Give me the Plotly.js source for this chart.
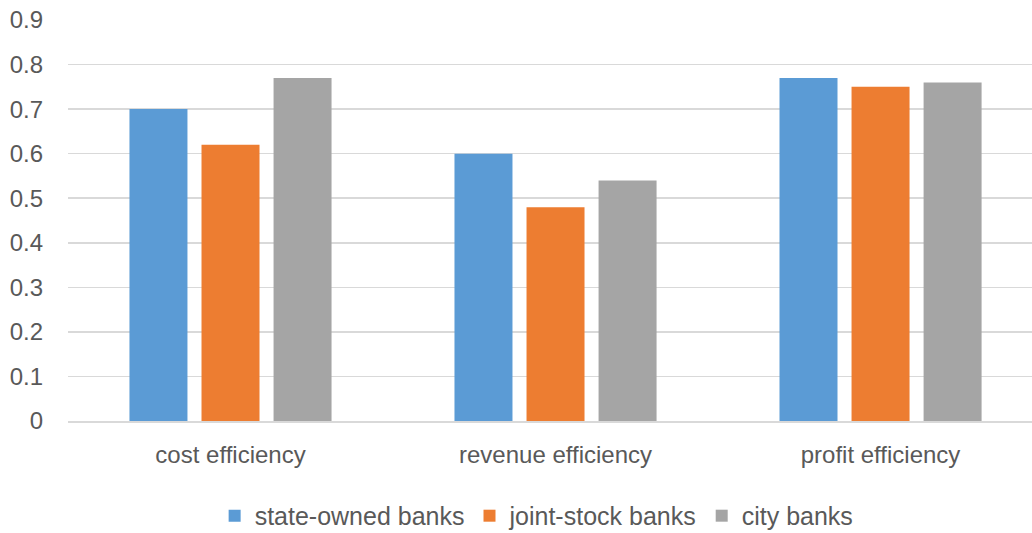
<!DOCTYPE html>
<html>
<head>
<meta charset="utf-8">
<script src="https://cdn.plot.ly/plotly-3.0.1.min.js"></script>
<style>
  html, body { margin: 0; padding: 0; background: #ffffff; }
  #chart { width: 1032px; height: 533px; }
</style>
</head>
<body>
<div id="chart"></div>
<script>
// Efficiency scores by bank type
const categories = ['cost efficiency', 'revenue efficiency', 'profit efficiency'];
const stateOwned = [0.70, 0.60, 0.77];
const jointStock = [0.62, 0.48, 0.75];
const cityBanks  = [0.77, 0.54, 0.76];
const seriesNames = ['state-owned banks', 'joint-stock banks', 'city banks'];
const yTicks = [0, 0.1, 0.2, 0.3, 0.4, 0.5, 0.6, 0.7, 0.8, 0.9];
const yTickText = ['0', '0.1', '0.2', '0.3', '0.4', '0.5', '0.6', '0.7', '0.8', '0.9'];

const colors = ['#5b9bd5', '#ed7d31', '#a5a5a5'];
const values = [stateOwned, jointStock, cityBanks];

const traces = values.map((v, i) => ({
  type: 'bar',
  name: seriesNames[i],
  x: categories,
  y: v,
  marker: { color: colors[i] },
  hoverinfo: 'x+y+name'
}));

const layout = {
  width: 1032,
  height: 533,
  margin: { l: 68, r: 0, t: 20, b: 112 },
  paper_bgcolor: '#ffffff',
  plot_bgcolor: '#ffffff',
  font: { family: 'Liberation Sans, Arial, sans-serif', color: '#595959', size: 24 },
  barmode: 'group',
  bargap: 0.335,
  bargroupgap: 0.195,
  showlegend: true,
  legend: {
    orientation: 'h',
    xref: 'container',
    yref: 'container',
    x: 0.52,
    xanchor: 'center',
    y: 0.032,
    yanchor: 'middle',
    font: { size: 25, color: '#595959' },
    itemwidth: 30,
    tracegroupgap: 0
  },
  xaxis: {
    type: 'category',
    range: [-0.5, 2.466],
    showgrid: false,
    showline: true,
    linecolor: '#d9d9d9',
    linewidth: 1.5,
    ticks: '',
    ticklabelstandoff: 12,
    tickfont: { size: 24, color: '#595959' },
    zeroline: false,
    fixedrange: true
  },
  yaxis: {
    range: [0, 0.9],
    tickvals: yTicks,
    ticktext: yTickText,
    showgrid: true,
    gridcolor: '#d9d9d9',
    gridwidth: 1.5,
    zeroline: false,
    showline: false,
    ticks: '',
    ticklabelstandoff: 24,
    tickfont: { size: 24, color: '#595959' },
    fixedrange: true
  }
};

Plotly.newPlot('chart', traces, layout, { displayModeBar: false, staticPlot: true });
</script>
</body>
</html>
